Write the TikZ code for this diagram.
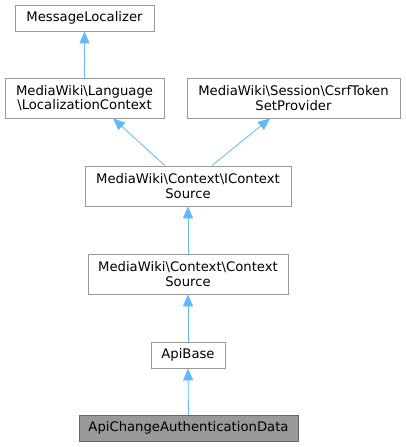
\documentclass[tikz,border=0pt]{standalone}
\usepackage{fontspec}
\setmainfont{DejaVu Sans}
\definecolor{edgeblue}{HTML}{63B8FF}
\definecolor{boxline}{HTML}{999999}
\tikzset{
  classbox/.style={draw=boxline, fill=white, line width=0.8pt, align=center,
    inner sep=0pt, font=\fontsize{13.2}{14.5}\selectfont},
  curbox/.style={classbox, draw=black!60, fill=black!40},
  inherit/.style={draw=edgeblue, line width=0.8pt,
    -{Triangle[length=12pt,width=10pt]}}
}
\usetikzlibrary{arrows.meta}
\begin{document}
\begin{tikzpicture}[x=1pt,y=-1pt]
  \useasboundingbox (0,0) rectangle (405,447);

  \node[classbox, minimum width=139pt, minimum height=26pt] (msgloc) at (84.5,18) {MessageLocalizer};
  \node[classbox, minimum width=159pt, minimum height=40pt] (locctx) at (84.5,98) {MediaWiki\textbackslash Language\\\textbackslash LocalizationContext};
  \node[classbox, minimum width=213pt, minimum height=40pt] (csrf) at (293.5,98) {MediaWiki\textbackslash Session\textbackslash CsrfToken\\SetProvider};

  \node[classbox, minimum width=206pt, minimum height=40pt] (ictx) at (188,186) {MediaWiki\textbackslash Context\textbackslash IContext\\Source};
  \node[classbox, minimum width=200pt, minimum height=40pt] (ctxsrc) at (188,274) {MediaWiki\textbackslash Context\textbackslash Context\\Source};

  \node[classbox, minimum width=74pt, minimum height=26pt] (apibase) at (188,355) {ApiBase};
  \node[curbox, minimum width=219pt, minimum height=26pt] (apichange) at (188.5,428) {ApiChangeAuthenticationData};

  % inheritance edges
  \draw[inherit] (locctx.north) -- (msgloc.south);
  \draw[inherit] ([xshift=-23pt]ictx.north) -- ([xshift=28.5pt]locctx.south);
  \draw[inherit] ([xshift=24pt]ictx.north) -- ([xshift=-23.5pt]csrf.south);
  \draw[inherit] (ctxsrc.north) -- (ictx.south);
  \draw[inherit] (apibase.north) -- (ctxsrc.south);
  \draw[inherit] (apichange.north) -- (apibase.south);
\end{tikzpicture}
\end{document}
